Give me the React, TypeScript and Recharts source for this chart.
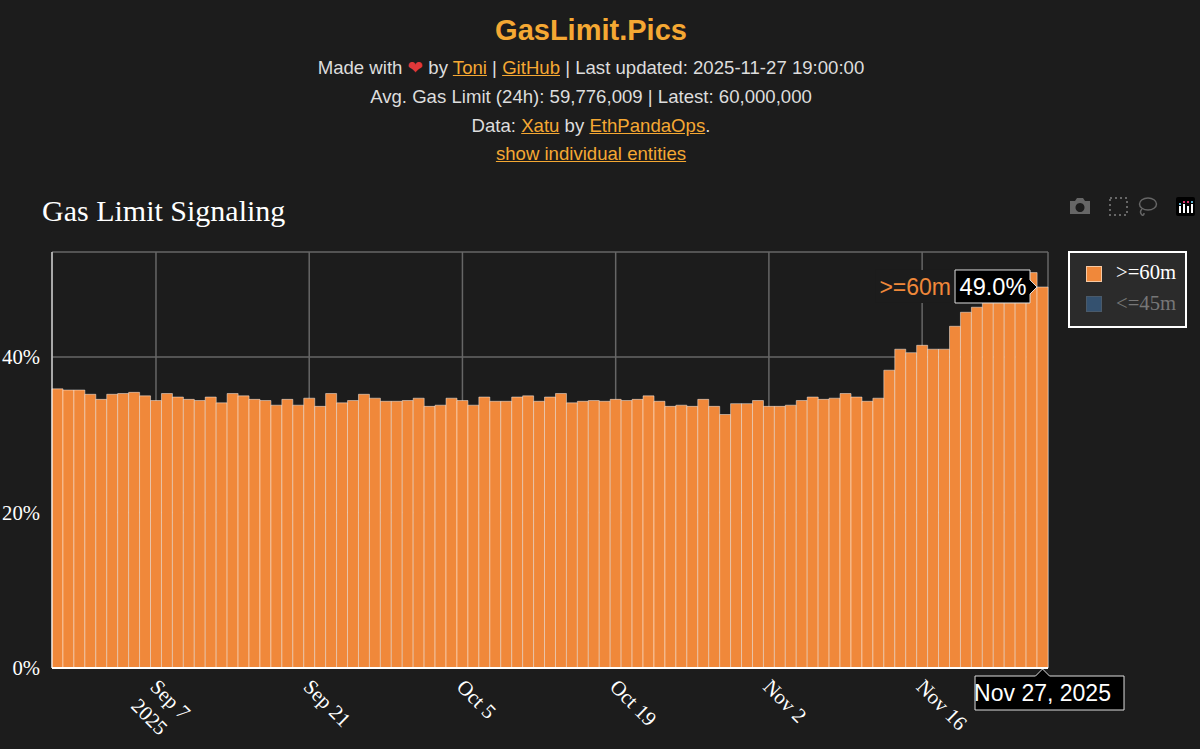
import { BarChart, Bar, XAxis, YAxis, CartesianGrid, ReferenceDot } from "recharts";

const dates = [
  "Aug 29", "Aug 30", "Aug 31",
  "Sep 1", "Sep 2", "Sep 3", "Sep 4", "Sep 5", "Sep 6", "Sep 7", "Sep 8", "Sep 9", "Sep 10",
  "Sep 11", "Sep 12", "Sep 13", "Sep 14", "Sep 15", "Sep 16", "Sep 17", "Sep 18", "Sep 19", "Sep 20",
  "Sep 21", "Sep 22", "Sep 23", "Sep 24", "Sep 25", "Sep 26", "Sep 27", "Sep 28", "Sep 29", "Sep 30",
  "Oct 1", "Oct 2", "Oct 3", "Oct 4", "Oct 5", "Oct 6", "Oct 7", "Oct 8", "Oct 9", "Oct 10",
  "Oct 11", "Oct 12", "Oct 13", "Oct 14", "Oct 15", "Oct 16", "Oct 17", "Oct 18", "Oct 19", "Oct 20",
  "Oct 21", "Oct 22", "Oct 23", "Oct 24", "Oct 25", "Oct 26", "Oct 27", "Oct 28", "Oct 29", "Oct 30", "Oct 31",
  "Nov 1", "Nov 2", "Nov 3", "Nov 4", "Nov 5", "Nov 6", "Nov 7", "Nov 8", "Nov 9", "Nov 10",
  "Nov 11", "Nov 12", "Nov 13", "Nov 14", "Nov 15", "Nov 16", "Nov 17", "Nov 18", "Nov 19", "Nov 20",
  "Nov 21", "Nov 22", "Nov 23", "Nov 24", "Nov 25", "Nov 26", "Nov 27",
];

const above60m = [
  35.9, 35.75, 35.75, 35.2, 34.55, 35.2, 35.3, 35.45, 35.0, 34.4,
  35.3, 34.85, 34.55, 34.4, 34.85, 34.1, 35.3, 35.0, 34.55, 34.4,
  33.8, 34.55, 33.8, 34.7, 33.65, 35.3, 34.1, 34.4, 35.2, 34.7,
  34.3, 34.3, 34.4, 34.7, 33.65, 33.8, 34.7, 34.4, 33.8, 34.85,
  34.3, 34.3, 34.85, 35.0, 34.3, 34.85, 35.3, 34.1, 34.3, 34.4,
  34.3, 34.55, 34.4, 34.55, 35.0, 34.3, 33.65, 33.8, 33.65, 34.55,
  33.65, 32.6, 34.0, 34.0, 34.4, 33.65, 33.65, 33.8, 34.4, 34.85,
  34.55, 34.7, 35.3, 34.85, 34.3, 34.7, 38.3, 41.0, 40.55, 41.5,
  41.0, 41.0, 43.95, 45.75, 46.4, 47.0, 47.3, 47.8, 48.5, 50.85, 49.0,
];

const xTicks = ["Sep 7", "Sep 21", "Oct 5", "Oct 19", "Nov 2", "Nov 16"];
const yTicks = [0, 20, 40];
const legendNames = [">=60m", "<=45m"];
const latestDate = "Nov 27";
const latestValue = 49.0;

const BG = "#1c1c1c";
const ORANGE = "#f0883a";
const LINK = "#f5a833";
const SERIF = "'Liberation Serif', serif";
const SANS = "'Liberation Sans', sans-serif";

const chartData = dates.map((d, i) => ({ date: d, high: above60m[i] }));

const XTick = ({ x, y, payload }: any) => (
  <g transform={`translate(${x - 7},${y + 12})`}>
    <text transform="rotate(45)" fontFamily={SERIF} fontSize={20.7} fill="#fff" textAnchor="start">
      <tspan x={0} dy={0}>{payload.value}</tspan>
      {payload.value === "Sep 7" && <tspan x={0} dy={27}>2025</tspan>}
    </text>
  </g>
);

const ValueHover = ({ cx, cy }: any) => {
  const tipX = cx - 5.5;
  return (
    <g>
      <rect x={tipX - 162} y={cy - 17} width={80} height={33} fill={BG} />
      <text x={tipX - 86} y={cy + 8} textAnchor="end" fontFamily={SANS} fontSize={23} fill={ORANGE}>
        {legendNames[0]}
      </text>
      <path
        d={`M${tipX},${cy} l-7,-7 v-10 h-75 v33 h75 v-9 z`}
        fill="#000"
        stroke="#ddd"
        strokeWidth={1}
      />
      <text x={tipX - 44} y={cy + 8} textAnchor="middle" fontFamily={SANS} fontSize={23.6} fill="#fff">
        {latestValue.toFixed(1)}%
      </text>
    </g>
  );
};

const DateHover = ({ cx, cy }: any) => (
  <g>
    <path
      d={`M${cx},${cy + 1} l7,7 h74.5 v34 h-149 v-34 h60.5 z`}
      fill="#000"
      stroke="#ddd"
      strokeWidth={1}
    />
    <text x={cx} y={cy + 33} textAnchor="middle" fontFamily={SANS} fontSize={23} fill="#fff">
      Nov 27, 2025
    </text>
  </g>
);

const Modebar = () => (
  <svg width={1200} height={40} style={{ position: "absolute", left: 0, top: 187 }}>
    <g fill="#666">
      <path d="M1070 14 h5 l2 -3 h6 l2 3 h5 v13 h-20 z M1080 16 a4.5 4.5 0 1 0 0.01 0 z" fillRule="evenodd" />
    </g>
    <rect x={1110} y={11} width={17} height={17} fill="none" stroke="#666" strokeWidth={2} strokeDasharray="2 3" />
    <ellipse cx={1148} cy={17} rx={8.5} ry={6} fill="none" stroke="#666" strokeWidth={1.5} />
    <path d="M1142 22 q-3 3 0 6 q2 1 2 -2" fill="none" stroke="#666" strokeWidth={1.5} />
    <rect x={1176} y={10} width={19} height={19} rx={2} fill="#000" />
    <g fill="#fff">
      <rect x={1179} y={19} width={2} height={7} />
      <rect x={1183} y={17} width={2} height={9} />
      <rect x={1187} y={19} width={2} height={7} />
      <rect x={1191} y={17} width={2} height={9} />
    </g>
    <g fill="#d6336c">
      <rect x={1183} y={14} width={2} height={2} />
      <rect x={1187} y={14} width={2} height={2} />
    </g>
    <g fill="#5ab0d0">
      <rect x={1179} y={16} width={2} height={2} />
      <rect x={1191} y={14} width={2} height={2} />
    </g>
  </svg>
);

const ChartLegend = () => (
  <div
    style={{
      position: "absolute",
      left: 1068,
      top: 251,
      width: 115,
      height: 73,
      background: "#2b2b2b",
      border: "2px solid #fff",
      fontFamily: SERIF,
      fontSize: 20.7,
    }}
  >
    {legendNames.map((name, i) => (
      <div key={name} style={{ position: "absolute", left: 0, top: 4 + i * 31, height: 31, width: 115 }}>
        <span
          style={{
            position: "absolute",
            left: 16,
            top: 9 - i,
            width: 14,
            height: 14,
            background: i === 0 ? ORANGE : "#34516f",
            border: i === 0 ? "1px solid #f7c9a3" : "1px solid #4a5a6a",
          }}
        />
        <span style={{ position: "absolute", left: 46, top: 4, color: i === 0 ? "#fff" : "#777", whiteSpace: "pre" }}>
          {name}
        </span>
      </div>
    ))}
  </div>
);

const A = ({ children }: { children: React.ReactNode }) => (
  <a href="#" style={{ color: LINK }}>{children}</a>
);

const lineStyle = (top: number) => ({
  position: "absolute" as const,
  left: 0,
  width: 1182,
  top,
  textAlign: "center" as const,
  fontSize: 18.6,
  lineHeight: "29px",
  color: "#ddd",
  whiteSpace: "pre" as const,
});

export default function App() {
  return (
    <div style={{ position: "absolute", left: 0, top: 0, width: 1200, height: 749, background: BG, fontFamily: SANS, overflow: "hidden" }}>
      <div style={{ position: "absolute", left: 0, width: 1182, top: 14, textAlign: "center", fontSize: 29, fontWeight: 700, color: LINK }}>
        GasLimit.Pics
      </div>
      <div style={lineStyle(53)}>
        Made with <span style={{ color: "#e0383a", fontFamily: "'DejaVu Sans'" }}>❤</span> by <A>Toni</A> | <A>GitHub</A> | Last updated: 2025-11-27 19:00:00
      </div>
      <div style={lineStyle(82)}>Avg. Gas Limit (24h): 59,776,009 | Latest: 60,000,000</div>
      <div style={lineStyle(111)}>Data: <A>Xatu</A> by <A>EthPandaOps</A>.</div>
      <div style={lineStyle(139)}><A>show individual entities</A></div>

      <div style={{ position: "absolute", left: 42, top: 194, fontFamily: SERIF, fontSize: 30, color: "#fff" }}>
        Gas Limit Signaling
      </div>
      <Modebar />

      <div style={{ position: "absolute", left: 0, top: 0 }}>
        <BarChart
          width={1200}
          height={749}
          data={chartData}
          margin={{ top: 252, right: 152, bottom: 0, left: 0 }}
          barCategoryGap={0}
          barGap={0}
        >
          <CartesianGrid stroke="#666" strokeWidth={1.5} />
          <XAxis
            dataKey="date"
            ticks={xTicks}
            interval={0}
            height={81}
            tick={<XTick />}
            tickLine={false}
            axisLine={{ stroke: "#fff", strokeWidth: 2 }}
          />
          <YAxis
            width={52}
            domain={[0, 53.5]}
            ticks={yTicks}
            tickFormatter={(v: number) => `${v}%`}
            tick={{ fill: "#fff", fontFamily: SERIF, fontSize: 20.7 }}
            tickLine={false}
            tickMargin={6}
            axisLine={{ stroke: "#fff", strokeWidth: 1 }}
          />
          <Bar dataKey="high" fill={ORANGE} stroke="rgba(255,255,255,0.45)" strokeWidth={1} isAnimationActive={false} />
          <ReferenceDot x={latestDate} y={latestValue} r={0} ifOverflow="visible" shape={<ValueHover />} />
          <ReferenceDot x={latestDate} y={0} r={0} ifOverflow="visible" shape={<DateHover />} />
        </BarChart>
      </div>
      <ChartLegend />
    </div>
  );
}
